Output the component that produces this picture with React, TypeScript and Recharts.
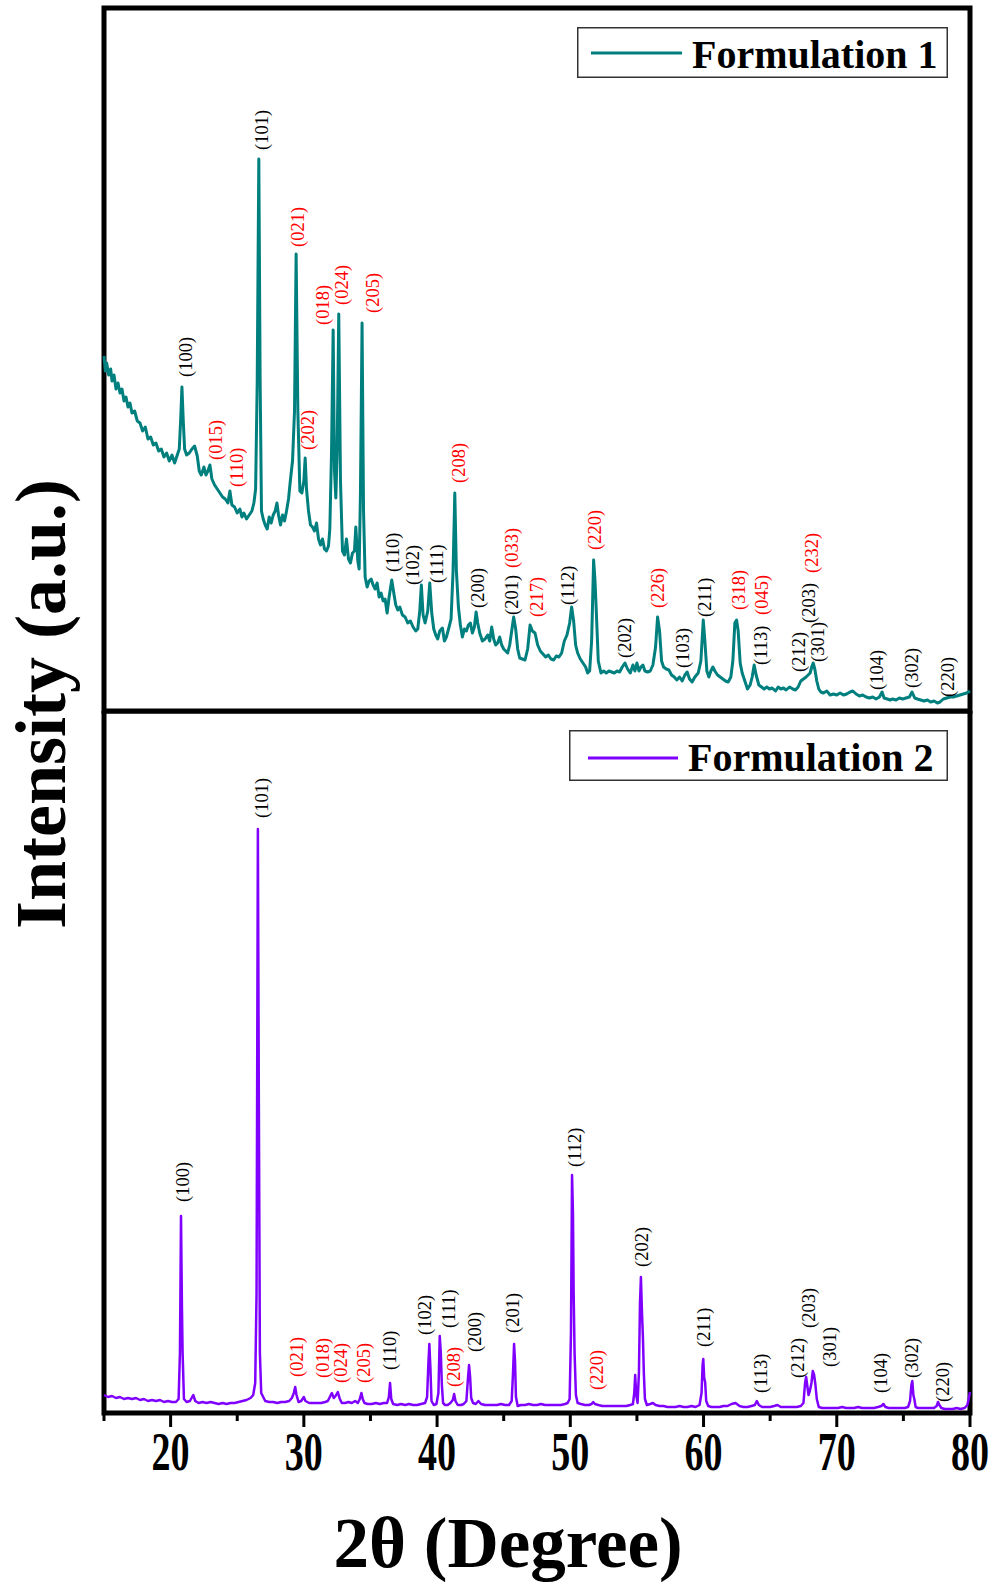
import React from 'react';
import {
  ComposedChart,
  Line,
  Scatter,
  XAxis,
  YAxis,
  ReferenceArea,
  Legend,
} from 'recharts';

const SERIF = "'Liberation Serif', 'Times New Roman', serif";

// 2θ (deg) vs intensity (a.u.)
const formulation1: [number, number][] = [
  [15.0, 355], [15.1, 340], [15.2, 348], [15.35, 336], [15.5, 342], [15.6, 330], [15.75, 336],
  [15.9, 322], [16.05, 328], [16.2, 318], [16.35, 322], [16.5, 310], [16.65, 314], [16.8, 304],
  [16.95, 308], [17.1, 298], [17.3, 300], [17.5, 290], [17.7, 288], [17.9, 280], [18.1, 284],
  [18.3, 272], [18.5, 274], [18.7, 266], [18.9, 268], [19.1, 260], [19.3, 262], [19.5, 254],
  [19.7, 258], [19.9, 250], [20.1, 256], [20.3, 248], [20.5, 256], [20.65, 262], [20.75, 290],
  [20.85, 324], [20.95, 290], [21.05, 262], [21.2, 256], [21.4, 258], [21.6, 262], [21.8, 265],
  [22.0, 255], [22.15, 240], [22.3, 236], [22.5, 244], [22.65, 236], [22.8, 240], [22.95, 246],
  [23.1, 232], [23.3, 226], [23.5, 222], [23.7, 218], [23.9, 214], [24.1, 212], [24.3, 208],
  [24.45, 220], [24.6, 206], [24.8, 204], [25.0, 198], [25.2, 202], [25.35, 194], [25.5, 198],
  [25.7, 192], [25.9, 196], [26.1, 200], [26.25, 208], [26.38, 222], [26.5, 330], [26.62, 552],
  [26.72, 330], [26.82, 200], [26.95, 192], [27.1, 186], [27.25, 182], [27.4, 194], [27.55, 188],
  [27.7, 196], [27.85, 200], [27.98, 208], [28.1, 196], [28.25, 186], [28.4, 196], [28.55, 190],
  [28.7, 200], [28.85, 212], [29.0, 232], [29.15, 250], [29.3, 300], [29.42, 457], [29.55, 300],
  [29.7, 220], [29.85, 218], [30.0, 230], [30.1, 253], [30.2, 222], [30.35, 200], [30.5, 186],
  [30.65, 184], [30.8, 180], [30.95, 188], [31.1, 172], [31.25, 166], [31.4, 172], [31.55, 162],
  [31.7, 160], [31.85, 165], [31.95, 182], [32.08, 260], [32.2, 381], [32.3, 240], [32.4, 213],
  [32.5, 260], [32.62, 397], [32.75, 230], [32.9, 160], [33.05, 156], [33.2, 172], [33.35, 152],
  [33.5, 148], [33.65, 158], [33.8, 160], [33.9, 184], [34.05, 150], [34.15, 142], [34.25, 220],
  [34.37, 388], [34.48, 200], [34.6, 134], [34.75, 124], [34.9, 130], [35.05, 132], [35.2, 126],
  [35.35, 122], [35.5, 128], [35.65, 114], [35.8, 118], [35.95, 110], [36.1, 112], [36.25, 98],
  [36.4, 114], [36.6, 131], [36.75, 118], [36.9, 106], [37.05, 101], [37.2, 104], [37.4, 96],
  [37.6, 94], [37.8, 88], [38.0, 90], [38.2, 84], [38.4, 80], [38.55, 82], [38.7, 100],
  [38.82, 126], [38.95, 96], [39.1, 88], [39.3, 100], [39.45, 128], [39.6, 98], [39.75, 82],
  [39.9, 76], [40.05, 72], [40.2, 80], [40.4, 83], [40.55, 70], [40.7, 74], [40.9, 84],
  [41.05, 92], [41.2, 140], [41.33, 218], [41.45, 140], [41.6, 104], [41.75, 86], [41.9, 74],
  [42.05, 82], [42.2, 80], [42.35, 86], [42.5, 88], [42.65, 78], [42.8, 84], [42.93, 99],
  [43.05, 88], [43.2, 78], [43.4, 70], [43.6, 72], [43.8, 76], [43.95, 70], [44.1, 84],
  [44.25, 72], [44.4, 66], [44.55, 68], [44.7, 74], [44.85, 66], [45.0, 62], [45.15, 60],
  [45.3, 58], [45.45, 66], [45.6, 80], [45.75, 94], [45.9, 82], [46.05, 62], [46.2, 53],
  [46.4, 52], [46.6, 51], [46.8, 62], [46.98, 86], [47.15, 80], [47.35, 78], [47.55, 66],
  [47.75, 60], [47.95, 57], [48.15, 54], [48.35, 56], [48.55, 52], [48.75, 51], [48.95, 55],
  [49.15, 54], [49.35, 58], [49.55, 70], [49.75, 76], [49.95, 88], [50.1, 104], [50.25, 90],
  [50.4, 66], [50.55, 58], [50.75, 52], [50.95, 48], [51.15, 44], [51.3, 38], [51.45, 40],
  [51.6, 70], [51.75, 151], [51.85, 131], [51.95, 100], [52.1, 50], [52.3, 38], [52.5, 40],
  [52.7, 38], [52.9, 40], [53.1, 39], [53.3, 38], [53.5, 40], [53.7, 39], [53.9, 44],
  [54.1, 48], [54.3, 42], [54.5, 38], [54.7, 46], [54.85, 40], [55.0, 48], [55.15, 40],
  [55.3, 44], [55.45, 46], [55.6, 40], [55.8, 39], [56.0, 40], [56.2, 46], [56.4, 64],
  [56.55, 94], [56.7, 80], [56.85, 50], [57.0, 44], [57.2, 42], [57.4, 41], [57.6, 36],
  [57.8, 34], [58.0, 31], [58.2, 34], [58.4, 30], [58.6, 36], [58.77, 39], [58.95, 32],
  [59.14, 29], [59.35, 34], [59.6, 38], [59.8, 50], [59.98, 91], [60.1, 70], [60.25, 40],
  [60.4, 34], [60.55, 40], [60.7, 44], [60.85, 40], [61.05, 36], [61.25, 34], [61.45, 32],
  [61.65, 30], [61.85, 29], [62.05, 34], [62.2, 50], [62.35, 88], [62.48, 91], [62.6, 80],
  [62.75, 48], [62.9, 38], [63.1, 30], [63.3, 22], [63.5, 26], [63.65, 34], [63.8, 46],
  [63.95, 36], [64.15, 26], [64.35, 24], [64.55, 22], [64.75, 24], [64.95, 22], [65.15, 23],
  [65.4, 20], [65.6, 24], [65.8, 22], [66.0, 23], [66.2, 21], [66.45, 24], [66.7, 22],
  [66.9, 21], [67.1, 24], [67.3, 30], [67.5, 32], [67.7, 34], [67.85, 36], [68.0, 38],
  [68.12, 44], [68.23, 48], [68.35, 42], [68.5, 30], [68.65, 22], [68.8, 19], [69.0, 18],
  [69.25, 20], [69.5, 16], [69.75, 17], [70.0, 16], [70.25, 18], [70.5, 16], [70.75, 17],
  [71.0, 19], [71.2, 20], [71.45, 17], [71.7, 15], [71.95, 16], [72.2, 14], [72.45, 13],
  [72.7, 14], [72.95, 12], [73.2, 14], [73.4, 19], [73.55, 13], [73.8, 12], [74.0, 11],
  [74.2, 12], [74.45, 11], [74.7, 13], [74.95, 12], [75.2, 13], [75.45, 14], [75.65, 19],
  [75.85, 13], [76.05, 12], [76.3, 11], [76.55, 10], [76.8, 11], [77.05, 9], [77.3, 10],
  [77.55, 8], [77.75, 9], [78.0, 12], [78.25, 13], [78.5, 14], [78.75, 14], [79.0, 15],
  [79.25, 16], [79.5, 17], [79.75, 18], [80.0, 20],
];

const formulation2: [number, number][] = [
  [15.0, 18], [15.3, 16], [15.6, 17], [15.9, 15], [16.2, 16], [16.5, 14], [16.8, 15], [17.1, 14],
  [17.4, 15], [17.7, 13], [18.0, 14], [18.3, 12], [18.6, 13], [18.9, 12], [19.2, 13], [19.5, 11],
  [19.8, 12], [20.1, 11], [20.4, 11], [20.6, 14], [20.7, 60], [20.78, 197], [20.85, 106],
  [20.9, 60], [21.0, 14], [21.2, 11], [21.45, 12], [21.7, 18], [21.85, 12], [22.1, 10],
  [22.4, 11], [22.7, 10], [23.0, 11], [23.3, 10], [23.6, 9], [23.9, 10], [24.2, 9], [24.5, 10],
  [24.8, 10], [25.1, 11], [25.4, 12], [25.7, 13], [26.0, 15], [26.2, 18], [26.35, 30],
  [26.45, 120], [26.55, 584], [26.62, 320], [26.7, 60], [26.8, 20], [26.95, 16], [27.1, 12],
  [27.4, 11], [27.7, 11], [28.0, 10], [28.3, 11], [28.6, 11], [28.9, 12], [29.1, 15],
  [29.25, 20], [29.35, 26], [29.45, 18], [29.6, 11], [29.8, 12], [30.0, 16], [30.12, 12],
  [30.4, 10], [30.7, 10], [31.0, 10], [31.3, 10], [31.6, 11], [31.8, 12], [31.95, 16],
  [32.1, 20], [32.25, 15], [32.38, 17], [32.55, 21], [32.7, 14], [32.85, 10], [33.1, 10],
  [33.35, 11], [33.6, 10], [33.85, 12], [34.05, 10], [34.2, 14], [34.32, 20], [34.42, 14],
  [34.55, 10], [34.8, 9], [35.1, 9], [35.4, 10], [35.7, 9], [36.0, 10], [36.25, 10],
  [36.38, 16], [36.47, 30], [36.56, 14], [36.7, 9], [37.0, 8], [37.3, 9], [37.6, 8], [37.9, 9],
  [38.2, 8], [38.5, 8], [38.8, 9], [39.1, 10], [39.25, 16], [39.35, 50], [39.42, 69],
  [39.5, 45], [39.58, 12], [39.75, 8], [39.95, 9], [40.1, 20], [40.2, 77], [40.28, 60],
  [40.36, 28], [40.45, 10], [40.6, 8], [40.8, 8], [41.0, 10], [41.18, 13], [41.28, 19],
  [41.38, 12], [41.55, 8], [41.8, 8], [42.0, 9], [42.2, 12], [42.32, 35], [42.4, 48],
  [42.48, 36], [42.56, 15], [42.7, 10], [42.9, 9], [43.1, 12], [43.3, 9], [43.6, 8], [43.9, 8],
  [44.2, 8], [44.5, 8], [44.8, 9], [45.1, 8], [45.4, 8], [45.6, 12], [45.7, 40], [45.78, 69],
  [45.85, 52], [45.92, 16], [46.05, 7], [46.3, 8], [46.6, 8], [46.9, 9], [47.2, 8], [47.5, 8],
  [47.8, 9], [48.1, 8], [48.4, 8], [48.7, 8], [49.0, 8], [49.3, 8], [49.6, 9], [49.8, 10],
  [49.95, 14], [50.05, 80], [50.13, 238], [50.2, 200], [50.25, 121], [50.32, 60], [50.42, 18],
  [50.55, 10], [50.8, 9], [51.1, 8], [51.4, 8], [51.6, 9], [51.72, 11], [51.85, 9], [52.1, 8],
  [52.4, 7], [52.7, 7], [53.0, 7], [53.3, 7], [53.6, 7], [53.9, 7], [54.2, 7], [54.5, 8],
  [54.7, 9], [54.8, 20], [54.87, 38], [54.95, 18], [55.05, 10], [55.15, 40], [55.23, 110],
  [55.3, 136], [55.38, 100], [55.45, 76], [55.52, 40], [55.6, 14], [55.75, 8], [56.0, 9],
  [56.2, 10], [56.4, 8], [56.7, 7], [57.0, 7], [57.3, 6], [57.6, 6], [57.9, 6], [58.2, 7],
  [58.5, 6], [58.8, 6], [59.1, 7], [59.4, 6], [59.7, 8], [59.85, 20], [59.93, 48], [59.98, 54],
  [60.05, 35], [60.12, 31], [60.2, 12], [60.35, 7], [60.6, 6], [60.9, 6], [61.2, 6], [61.5, 7],
  [61.8, 7], [62.1, 9], [62.4, 10], [62.7, 7], [63.0, 6], [63.3, 6], [63.6, 7], [63.85, 8],
  [64.0, 12], [64.15, 8], [64.4, 6], [64.7, 6], [65.0, 6], [65.3, 7], [65.55, 8], [65.8, 6],
  [66.1, 6], [66.4, 6], [66.7, 6], [67.0, 6], [67.3, 7], [67.5, 10], [67.62, 30], [67.7, 36],
  [67.78, 28], [67.88, 18], [67.98, 22], [68.1, 30], [68.2, 42], [68.3, 38], [68.4, 28],
  [68.5, 14], [68.65, 6], [68.9, 5], [69.2, 5], [69.5, 5], [69.8, 5], [70.1, 5], [70.4, 6],
  [70.7, 5], [71.0, 5], [71.3, 5], [71.6, 6], [71.9, 5], [72.2, 5], [72.5, 5], [72.8, 5],
  [73.1, 6], [73.35, 7], [73.5, 9], [73.65, 6], [73.9, 5], [74.2, 5], [74.5, 5], [74.8, 5],
  [75.1, 5], [75.35, 6], [75.5, 12], [75.6, 28], [75.67, 32], [75.75, 18], [75.82, 14],
  [75.92, 6], [76.1, 5], [76.4, 5], [76.7, 5], [77.0, 5], [77.3, 5], [77.5, 7], [77.6, 11],
  [77.7, 8], [77.85, 5], [78.1, 4], [78.4, 4], [78.7, 4], [79.0, 5], [79.3, 4], [79.6, 5],
  [79.8, 8], [79.9, 14], [80.0, 21],
];

// Miller indices: [hkl, 2θ, label base intensity, phase] — 'k' = black phase, 'r' = red phase
type Peak = [string, number, number, 'k' | 'r'];

const peaks1: Peak[] = [
  ['(100)', 21.16, 334, 'k'], ['(101)', 26.86, 561, 'k'], ['(015)', 23.41, 251, 'r'],
  ['(110)', 24.98, 224, 'r'], ['(021)', 29.56, 464, 'r'], ['(202)', 30.32, 261, 'r'],
  ['(018)', 31.44, 386, 'r'], ['(024)', 32.87, 406, 'r'], ['(205)', 35.2, 398, 'r'],
  ['(110)', 36.7, 139, 'k'], ['(102)', 38.2, 126, 'k'], ['(111)', 40.0, 128, 'k'],
  ['(208)', 41.65, 228, 'r'], ['(200)', 43.08, 103, 'k'], ['(201)', 45.63, 96, 'k'],
  ['(033)', 45.63, 143, 'r'], ['(217)', 47.5, 94, 'r'], ['(112)', 49.83, 106, 'k'],
  ['(220)', 51.86, 161, 'r'], ['(202)', 54.11, 53, 'k'], ['(226)', 56.59, 103, 'r'],
  ['(103)', 58.47, 43, 'k'], ['(211)', 60.12, 94, 'k'], ['(318)', 62.67, 101, 'r'],
  ['(045)', 64.4, 96, 'r'], ['(113)', 64.32, 46, 'k'], ['(212)', 67.18, 39, 'k'],
  ['(203)', 67.93, 88, 'k'], ['(301)', 68.6, 49, 'k'], ['(232)', 68.15, 138, 'r'],
  ['(104)', 73.03, 21, 'k'], ['(302)', 75.66, 23, 'k'], ['(220)', 78.36, 14, 'k'],
];

const peaks2: Peak[] = [
  ['(100)', 20.93, 211, 'k'], ['(101)', 26.86, 595, 'k'], ['(021)', 29.49, 36, 'r'],
  ['(018)', 31.44, 35, 'r'], ['(024)', 32.79, 30, 'r'], ['(205)', 34.52, 30, 'r'],
  ['(110)', 36.47, 43, 'k'], ['(102)', 39.1, 78, 'k'], ['(111)', 40.9, 85, 'k'],
  ['(208)', 41.28, 26, 'r'], ['(200)', 42.85, 61, 'k'], ['(201)', 45.7, 80, 'k'],
  ['(112)', 50.36, 246, 'k'], ['(220)', 52.01, 23, 'r'], ['(202)', 55.39, 146, 'k'],
  ['(211)', 60.05, 66, 'k'], ['(113)', 64.32, 20, 'k'], ['(212)', 67.1, 35, 'k'],
  ['(203)', 67.93, 85, 'k'], ['(301)', 69.5, 46, 'k'], ['(104)', 73.33, 20, 'k'],
  ['(302)', 75.66, 35, 'k'], ['(220)', 77.99, 11, 'k'],
];

const xTicks = [15, 20, 25, 30, 35, 40, 45, 50, 55, 60, 65, 70, 75, 80];

const toPoints = (rows: [number, number][]) => rows.map(([x, y]) => ({ x, y }));
const toLabels = (rows: Peak[]) =>
  rows.map(([hkl, x, y, phase]) => ({ hkl, x, y, color: phase === 'r' ? '#ff0000' : '#000000' }));

const PeakLabel = (props: any) => {
  const { cx, cy, payload } = props;
  if (cx == null || cy == null) return null;
  return (
    <text
      x={cx}
      y={cy}
      transform={`rotate(-90 ${cx} ${cy})`}
      textAnchor="start"
      dominantBaseline="central"
      fontFamily={SERIF}
      fontSize={18.5}
      fill={payload.color}
    >
      {payload.hkl}
    </text>
  );
};

// tall, narrow tick numerals: drawn small and stretched vertically
const AxisTick = (props: any) => {
  const { x, y, payload } = props;
  const v = payload.value;
  const major = v % 10 === 0;
  return (
    <g>
      <line x1={x} x2={x} y1={y} y2={y + (major ? 14 : 8)} stroke="#000" strokeWidth={3} />
      {major && (
        <text
          transform={`translate(${x} ${y + 57}) scale(1 1.42)`}
          textAnchor="middle"
          fontFamily={SERIF}
          fontWeight="bold"
          fontSize={38}
          fill="#000"
        >
          {v}
        </text>
      )}
    </g>
  );
};

const AxisTitle = (props: any) => {
  const vb = props.viewBox || {};
  const cx = vb.x + vb.width / 2 - 29;
  return (
    <text x={cx} y={vb.y + 154} textAnchor="middle" fontFamily={SERIF} fontWeight="bold" fontSize={71} fill="#000">
      2θ (Degree)
    </text>
  );
};

const LegendBox = ({ width, color, name, lineFrom, lineTo, lineY, textX }: any) => (
  <svg width={width} height={51} style={{ display: 'block' }}>
    <rect x={0.75} y={0.75} width={width - 1.5} height={49.5} fill="#fff" stroke="#333" strokeWidth={1.5} />
    <line x1={lineFrom} x2={lineTo} y1={lineY} y2={lineY} stroke={color} strokeWidth={3} />
    <text x={textX} y={41} fontFamily={SERIF} fontWeight="bold" fontSize={40} fill="#000">
      {name}
    </text>
  </svg>
);

interface PanelProps {
  rows: [number, number][];
  peaks: Peak[];
  color: string;
  strokeWidth: number;
  height: number;
  margin: { top: number; right: number; bottom: number; left: number };
  yMax: number;
  legend: { top: number; left: number; width: number; lineFrom: number; lineTo: number; lineY: number; textX: number };
  name: string;
  withAxis?: boolean;
}

const Panel = ({ rows, peaks, color, strokeWidth, height, margin, yMax, legend, name, withAxis }: PanelProps) => (
  <ComposedChart width={995} height={height} margin={margin}>
    {withAxis ? (
      <XAxis
        type="number"
        dataKey="x"
        domain={[15, 80]}
        ticks={xTicks}
        interval={0}
        height={172}
        axisLine={false}
        tickLine={false}
        tickSize={0}
        tickMargin={0}
        tick={<AxisTick />}
        label={<AxisTitle />}
      />
    ) : (
      <XAxis type="number" dataKey="x" domain={[15, 80]} hide />
    )}
    <YAxis type="number" dataKey="y" domain={[0, yMax]} hide />
    <Line
      data={toPoints(rows)}
      dataKey="y"
      stroke={color}
      strokeWidth={strokeWidth}
      strokeLinejoin="round"
      dot={false}
      activeDot={false}
      name={name}
      isAnimationActive={false}
    />
    <Scatter data={toLabels(peaks)} dataKey="y" shape={<PeakLabel />} isAnimationActive={false} legendType="none" />
    <ReferenceArea x1={15} x2={80} y1={0} y2={yMax} fill="none" stroke="#000" strokeWidth={5} />
    <Legend
      layout="vertical"
      align="center"
      verticalAlign="middle"
      wrapperStyle={{ top: legend.top, left: legend.left, width: legend.width, height: 51 }}
      content={() => (
        <LegendBox
          width={legend.width}
          color={color}
          name={name}
          lineFrom={legend.lineFrom}
          lineTo={legend.lineTo}
          lineY={legend.lineY}
          textX={legend.textX}
        />
      )}
    />
  </ComposedChart>
);

export default function App() {
  return (
    <div style={{ position: 'absolute', left: 0, top: 0, width: 995, height: 1585, background: '#fff' }}>
      <div style={{ position: 'absolute', left: 0, top: 0 }}>
        <Panel
          rows={formulation1}
          peaks={peaks1}
          color="#007f7f"
          strokeWidth={3}
          height={716}
          margin={{ top: 8, right: 25, bottom: 5, left: 104 }}
          yMax={703}
          name="Formulation 1"
          legend={{ top: 27, left: 577, width: 371, lineFrom: 14, lineTo: 105, lineY: 26, textX: 115 }}
        />
      </div>
      <div style={{ position: 'absolute', left: 0, top: 711 }}>
        <Panel
          rows={formulation2}
          peaks={peaks2}
          color="#7f00ff"
          strokeWidth={2.5}
          height={874}
          margin={{ top: 0, right: 25, bottom: 0, left: 104 }}
          yMax={702}
          name="Formulation 2"
          withAxis
          legend={{ top: 19, left: 569, width: 379, lineFrom: 19, lineTo: 109, lineY: 28, textX: 119 }}
        />
      </div>
      <svg
        width={995}
        height={1585}
        style={{ position: 'absolute', left: 0, top: 0, pointerEvents: 'none' }}
      >
        <text
          x={65}
          y={704}
          transform="rotate(-90 65 704)"
          textAnchor="middle"
          fontFamily={SERIF}
          fontWeight="bold"
          fontSize={72}
          fill="#000"
        >
          Intensity (a.u.)
        </text>
      </svg>
    </div>
  );
}
